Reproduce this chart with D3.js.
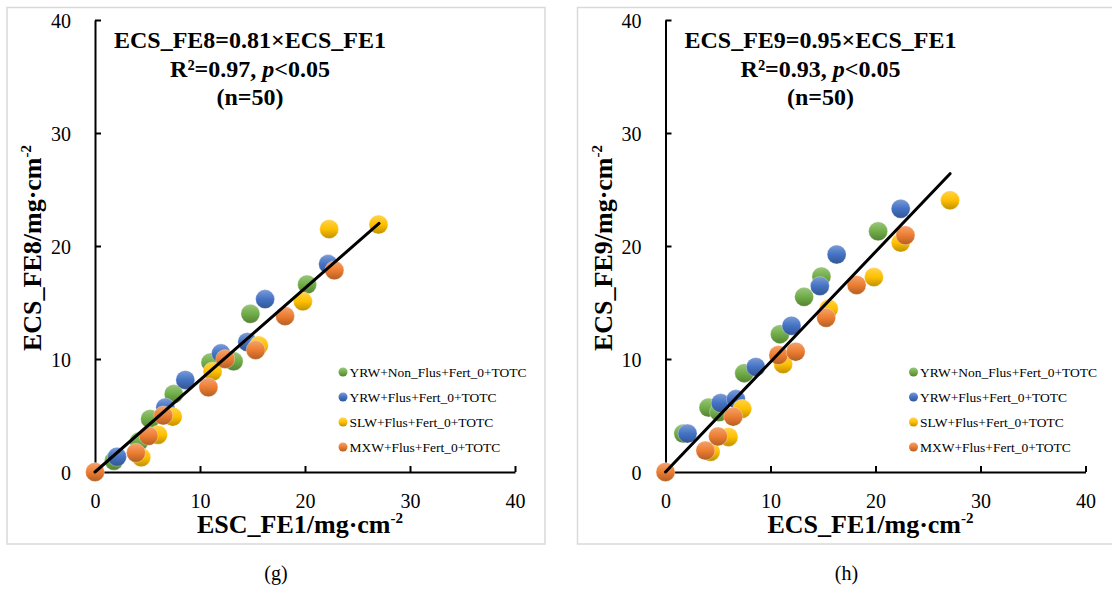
<!DOCTYPE html>
<html>
<head>
<meta charset="utf-8">
<script src="https://cdn.jsdelivr.net/npm/d3@7"></script>
<style>
  body { margin: 0; background: #fff; }
  svg, svg text { font-family: "Liberation Serif", Tinos, "Times New Roman", Times, serif; }
</style>
</head>
<body>
<svg width="1112" height="590"></svg>
<script>
const svg = d3.select('svg');
const FONT = '"Liberation Serif", Tinos, "Times New Roman", Times, serif';

// series names + colours (Excel office palette)
const seriesNames = ['YRW+Non_Flus+Fert_0+TOTC', 'YRW+Flus+Fert_0+TOTC', 'SLW+Flus+Fert_0+TOTC', 'MXW+Flus+Fert_0+TOTC'];
const seriesColors = ['#70ad47', '#4472c4', '#ffc000', '#ed7d31'];
const axisTicks = [0, 10, 20, 30, 40];

// panel (g): [ECS_FE1, ECS_FE8]
const g_green = [[1.8,1.0],[4.2,2.7],[5.25,4.7],[7.5,6.9],[11.0,9.7],[13.2,9.8],[14.8,14.0],[20.2,16.6]];
const g_blue = [[2.1,1.35],[6.7,5.7],[8.6,8.15],[12.0,10.5],[14.5,11.5],[16.2,15.3],[22.2,18.4]];
const g_yellow = [[4.4,1.3],[6.0,3.3],[7.4,4.9],[11.2,8.9],[15.6,11.2],[19.8,15.1],[22.3,21.5],[27.0,21.9]];
const g_orange = [[0,0],[3.9,1.7],[5.1,3.2],[6.5,5.0],[10.8,7.5],[12.4,10.0],[15.3,10.8],[18.1,13.8],[22.8,17.85]];
const g_fit = [[0,0],[27.05,22.0]];

// panel (h): [ECS_FE1, ECS_FE9]
const h_green = [[1.7,3.4],[4.1,5.7],[5.1,5.3],[7.5,8.75],[10.9,12.2],[13.2,15.5],[14.85,17.3],[20.25,21.3]];
const h_blue = [[2.1,3.4],[5.25,6.1],[6.7,6.45],[8.6,9.3],[12.0,12.95],[14.7,16.45],[16.3,19.25],[22.4,23.3]];
const h_yellow = [[4.3,1.8],[6.0,3.1],[7.3,5.6],[11.2,9.55],[15.55,14.45],[19.85,17.25],[22.4,20.3],[27.1,24.05]];
const h_orange = [[0,0],[3.8,1.9],[5.0,3.15],[6.45,4.9],[10.75,10.35],[12.4,10.65],[15.3,13.65],[18.2,16.55],[22.85,20.95]];
const h_fit = [[0,0],[27.1,26.4]];

svg.attr('font-family', FONT);

// gradients for the "ball" look
const defs = svg.append('defs');
seriesColors.forEach((c, i) => {
    const grad = defs.append('linearGradient')
        .attr('id', 'grad' + i)
        .attr('x1', 0).attr('y1', 0).attr('x2', 0).attr('y2', 1);
    grad.append('stop').attr('offset', '0%').attr('stop-color', d3.interpolateRgb(c, '#fff')(0.3));
    grad.append('stop').attr('offset', '50%').attr('stop-color', c);
    grad.append('stop').attr('offset', '100%').attr('stop-color', d3.interpolateRgb(c, '#000')(0.25));
});

function drawPanel(opt) {
    const ox = opt.ox;
    const g = svg.append('g').attr('transform', `translate(${ox},0)`);

    // frame
    g.append('rect')
        .attr('x', 7).attr('y', 7.5)
        .attr('width', opt.frameW).attr('height', 536.5)
        .attr('fill', 'none').attr('stroke', '#d9d9d9').attr('stroke-width', 1.5);

    const x = d3.scaleLinear().domain([0, 40]).range([95, 515]);
    const y = d3.scaleLinear().domain([0, 40]).range([472, 20]);

    // axes (ticks inside)
    const xAxis = g.append('g').attr('transform', `translate(0,${y(0)})`)
        .call(d3.axisBottom(x).tickValues(axisTicks).tickSizeInner(-6).tickSizeOuter(0).tickPadding(22));
    const yAxis = g.append('g').attr('transform', `translate(${x(0)},0)`)
        .call(d3.axisLeft(y).tickValues(axisTicks).tickSizeInner(-6).tickSizeOuter(0).tickPadding(24));
    [xAxis, yAxis].forEach(a => {
        a.attr('font-family', FONT);
        a.select('.domain').attr('stroke', '#000').attr('stroke-width', 2);
        a.selectAll('.tick line').attr('stroke', '#000').attr('stroke-width', 2);
        a.selectAll('.tick text').attr('font-size', 20).attr('fill', '#000');
    });
    yAxis.selectAll('.tick text').attr('dy', '0.35em');

    // points
    opt.series.forEach((s, i) => {
        g.append('g').selectAll('circle')
            .data(s)
            .enter()
            .append('circle')
            .attr('cx', d => x(d[0]))
            .attr('cy', d => y(d[1]))
            .attr('r', 9.5)
            .attr('fill', `url(#grad${i})`)
            .attr('stroke', 'rgba(255,255,255,0.5)')
            .attr('stroke-width', 0.6);
    });

    // fitted line
    g.append('path')
        .datum(opt.fit)
        .attr('d', d3.line().x(d => x(d[0])).y(d => y(d[1])))
        .attr('stroke', '#000').attr('stroke-width', 3).attr('fill', 'none')
        .attr('stroke-linecap', 'round');

    // equation text
    const eq = g.append('text').attr('text-anchor', 'middle')
        .attr('font-weight', 'bold').attr('font-size', 24).attr('fill', '#000');
    eq.append('tspan').attr('x', 250).attr('y', 48).text(opt.eq);
    const l2 = eq.append('tspan').attr('x', 250).attr('y', 76.5);
    l2.append('tspan').text(opt.r2 + ', ');
    l2.append('tspan').attr('font-style', 'italic').text('p');
    l2.append('tspan').text('<0.05');
    eq.append('tspan').attr('x', 250).attr('y', 105).text('(n=50)');

    // legend
    const leg = g.append('g');
    seriesNames.forEach((n, i) => {
        const ly = 372 + i * 25;
        leg.append('circle').attr('cx', 343).attr('cy', ly).attr('r', 4.5)
            .attr('fill', `url(#grad${i})`);
        leg.append('text').attr('x', 349.5).attr('y', ly).attr('dy', '0.35em')
            .attr('font-size', 13.5).attr('fill', '#000').text(n);
    });

    // axis titles
    const xt = g.append('text').attr('x', 300).attr('y', 533)
        .attr('text-anchor', 'middle').attr('font-weight', 'bold').attr('font-size', 26);
    xt.append('tspan').text(opt.xTitle + '/mg·cm');
    xt.append('tspan').attr('font-size', 15).attr('dy', -10).text('-2');

    const yt = g.append('text')
        .attr('transform', 'translate(41,248) rotate(-90)')
        .attr('text-anchor', 'middle').attr('font-weight', 'bold').attr('font-size', 26);
    yt.append('tspan').text(opt.yTitle + '/mg·cm');
    yt.append('tspan').attr('font-size', 15).attr('dy', -10).text('-2');

    // panel label
    g.append('text').attr('x', 276).attr('y', 580)
        .attr('text-anchor', 'middle').attr('font-size', 20).text(opt.label);
}

drawPanel({
    ox: 0, frameW: 538,
    series: [g_green, g_blue, g_yellow, g_orange], fit: g_fit,
    eq: 'ECS_FE8=0.81×ECS_FE1', r2: 'R²=0.97',
    xTitle: 'ESC_FE1', yTitle: 'ECS_FE8', label: '(g)'
});
drawPanel({
    ox: 570.5, frameW: 560,
    series: [h_green, h_blue, h_yellow, h_orange], fit: h_fit,
    eq: 'ECS_FE9=0.95×ECS_FE1', r2: 'R²=0.93',
    xTitle: 'ECS_FE1', yTitle: 'ECS_FE9', label: '(h)'
});
</script>
</body>
</html>
